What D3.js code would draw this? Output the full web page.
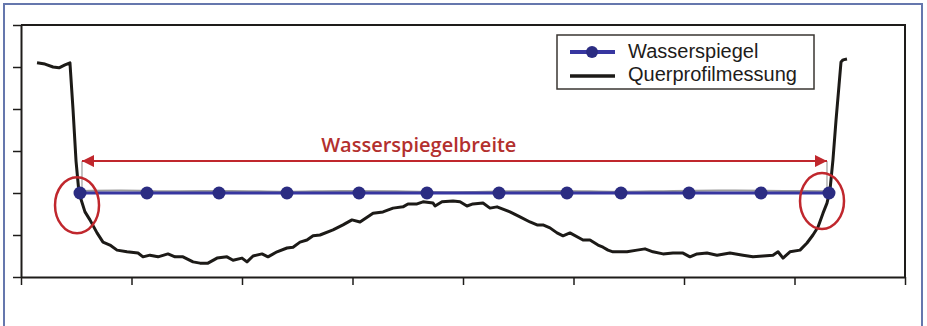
<!DOCTYPE html>
<html>
<head>
<meta charset="utf-8">
<script src="https://cdn.jsdelivr.net/npm/d3@7"></script>
<style>
    body { margin: 0; background: #fff; }
    svg { display: block; }
</style>
</head>
<body>
<div id="chart"></div>
<script>
const profileX = [1.45, 2.17, 2.90, 3.44, 3.98, 4.43, 4.71, 4.98, 5.25, 5.79, 6.24, 6.88, 7.42, 8.05, 8.69,
    9.59, 10.59, 11.04, 11.67, 12.40, 13.30, 13.94, 14.66, 15.57, 16.20, 16.92, 17.74, 18.64, 19.19, 20.00,
    20.45, 21.00, 21.81, 22.35, 23.17, 24.07, 24.62, 25.25, 25.88, 26.43, 27.06, 28.24, 29.14, 29.95, 30.68,
    31.86, 32.76, 33.67, 34.57, 35.02, 35.84, 36.38, 37.29, 37.47, 38.10, 39.10, 39.73, 40.36, 40.90, 41.81,
    42.44, 43.08, 44.25, 45.16, 46.06, 46.70, 47.24, 47.87, 48.51, 49.05, 49.68, 50.86, 51.49, 52.22, 52.67,
    53.12, 53.57, 54.21, 54.84, 55.75, 56.47, 57.19, 58.10, 59.00, 59.91, 60.54, 61.18, 62.08, 62.99, 64.16,
    65.34, 66.24, 67.15, 68.05, 68.51, 68.96, 69.59, 70.50, 71.13, 71.67, 72.13, 72.58, 72.94, 73.21, 73.48,
    73.76, 74.03, 74.21, 74.39, 74.75];
const profileY = [5.10, 5.07, 5.00, 4.98, 5.05, 5.10, 3.98, 2.76, 2.00, 1.55, 1.36, 1.05, 0.83, 0.76, 0.64,
    0.60, 0.57, 0.48, 0.52, 0.48, 0.55, 0.48, 0.48, 0.36, 0.33, 0.33, 0.45, 0.48, 0.40, 0.45,
    0.36, 0.50, 0.55, 0.48, 0.60, 0.69, 0.71, 0.83, 0.88, 0.98, 1.00, 1.12, 1.24, 1.36, 1.31,
    1.52, 1.55, 1.64, 1.67, 1.74, 1.74, 1.79, 1.76, 1.69, 1.79, 1.81, 1.79, 1.69, 1.74, 1.76,
    1.64, 1.67, 1.55, 1.43, 1.31, 1.24, 1.24, 1.17, 1.05, 0.98, 1.05, 0.88, 0.88, 0.76, 0.71,
    0.64, 0.60, 0.60, 0.60, 0.64, 0.67, 0.60, 0.55, 0.57, 0.57, 0.48, 0.55, 0.57, 0.52, 0.57,
    0.52, 0.48, 0.50, 0.52, 0.60, 0.45, 0.60, 0.64, 0.81, 1.00, 1.19, 1.52, 1.76, 2.07, 2.79,
    3.74, 4.57, 5.12, 5.17, 5.19];

// Wasserspiegel-Punkte
const waterX = [5.34, 11.40, 17.92, 24.07, 30.59, 36.74, 43.26, 49.41, 54.30, 60.45, 66.97, 73.12];
const waterY = [2.00, 2.00, 2.00, 2.00, 2.00, 2.00, 2.00, 2.00, 2.00, 2.00, 2.00, 2.00];

// gemessene Wasseroberfläche (grau, knapp über der Linie)
const surfaceX = [5.3, 9.0, 14.0, 19.0, 24.0, 29.0, 34.0, 39.0, 44.0, 49.0, 54.0, 59.0, 64.0, 69.0, 73.1];
const surfaceY = [2.05, 2.06, 2.04, 2.05, 2.03, 2.05, 2.04, 2.02, 2.04, 2.05, 2.03, 2.05, 2.06, 2.05, 2.04];

// Wasserspiegelbreite (Pfeil) und Markierungen
const widthStart = 5.52, widthEnd = 72.94, widthLevel = 2.76;
const edgeMarks = [[5.07, 1.71], [72.49, 1.81]];

const xTicks = [0, 10, 20, 30, 40, 50, 60, 70, 80];
const yTicks = [0, 1, 2, 3, 4, 5, 6];
const seriesNames = ['Wasserspiegel', 'Querprofilmessung'];
const widthLabel = 'Wasserspiegelbreite';

const W = 927, H = 326;
const margin = {top: 25, right: 22, bottom: 49, left: 21};
const width = W - margin.left - margin.right;
const height = H - margin.top - margin.bottom;

const svg = d3.select('#chart').append('svg')
    .attr('width', W)
    .attr('height', H);

const defs = svg.append('defs');
defs.append('marker')
    .attr('id', 'arrow')
    .attr('viewBox', '0 0 10 10')
    .attr('refX', 10)
    .attr('refY', 5)
    .attr('markerWidth', 15)
    .attr('markerHeight', 12)
    .attr('markerUnits', 'userSpaceOnUse')
    .attr('orient', 'auto-start-reverse')
    .append('path')
    .attr('d', 'M0,0 L10,5 L0,10 Z')
    .attr('fill', '#c0272d');

// outer frame
svg.append('rect')
    .attr('x', 4)
    .attr('y', 4)
    .attr('width', 918)
    .attr('height', 330)
    .attr('fill', '#fff')
    .attr('stroke', '#6577ad')
    .attr('stroke-width', 2);

const g = svg.append('g')
    .attr('transform', `translate(${margin.left},${margin.top})`);

const x = d3.scaleLinear().domain([0, 80]).range([0, width]);
const y = d3.scaleLinear().domain([0, 6]).range([height, 0]);

// axes
const xAxis = g.append('g')
    .attr('transform', `translate(0,${height})`)
    .call(d3.axisBottom(x).tickValues(xTicks).tickSize(8).tickSizeOuter(0).tickFormat(''));
const yAxis = g.append('g')
    .call(d3.axisLeft(y).tickValues(yTicks).tickSize(8).tickSizeOuter(0).tickFormat(''));
[xAxis, yAxis].forEach(a => {
    a.select('.domain').attr('stroke', '#1e1c1a').attr('stroke-width', 2);
    a.selectAll('.tick line').attr('stroke', '#1e1c1a').attr('stroke-width', 1.5);
});

// top and right frame of plot area
g.append('path')
    .attr('d', d3.line()([[x(0), y(6)], [x(80), y(6)], [x(80), y(0)]]))
    .attr('fill', 'none')
    .attr('stroke', '#1e1c1a')
    .attr('stroke-width', 2);

const line = d3.line()
    .x(d => x(d[0]))
    .y(d => y(d[1]));

// grey surface line
g.append('path')
    .datum(surfaceX.map((v, i) => [v, surfaceY[i]]))
    .attr('d', line.curve(d3.curveMonotoneX))
    .attr('fill', 'none')
    .attr('stroke', '#9a9a9a')
    .attr('stroke-width', 2);
line.curve(d3.curveLinear);

// extension lines of the width dimension
[widthStart, widthEnd].forEach(v => {
    g.append('line')
        .attr('x1', x(v)).attr('x2', x(v))
        .attr('y1', y(widthLevel)).attr('y2', y(2))
        .attr('stroke', '#8a8a8a')
        .attr('stroke-width', 1);
});

// water level
g.append('path')
    .datum(waterX.map((v, i) => [v, waterY[i]]))
    .attr('d', line)
    .attr('fill', 'none')
    .attr('stroke', '#3736a0')
    .attr('stroke-width', 3);

// profile
g.append('path')
    .datum(profileX.map((v, i) => [v, profileY[i]]))
    .attr('d', line)
    .attr('fill', 'none')
    .attr('stroke', '#1c1a17')
    .attr('stroke-width', 3)
    .attr('stroke-linejoin', 'round');

g.selectAll('.wpoint')
    .data(waterX.map((v, i) => [v, waterY[i]]))
    .join('circle')
    .attr('class', 'wpoint')
    .attr('cx', d => x(d[0]))
    .attr('cy', d => y(d[1]))
    .attr('r', 6.5)
    .attr('fill', '#2b2c82');

// width arrow
g.append('line')
    .attr('x1', x(widthStart)).attr('x2', x(widthEnd))
    .attr('y1', y(widthLevel)).attr('y2', y(widthLevel))
    .attr('stroke', '#c0272d')
    .attr('stroke-width', 2)
    .attr('marker-start', 'url(#arrow)')
    .attr('marker-end', 'url(#arrow)');

g.append('text')
    .attr('x', x(36))
    .attr('y', y(widthLevel) - 9)
    .attr('text-anchor', 'middle')
    .style('font-family', '"Open Sans", sans-serif')
    .style('font-size', '20px')
    .style('font-weight', 600)
    .attr('fill', '#b3302e')
    .text(widthLabel);

// red ellipses at the banks
g.selectAll('.edge')
    .data(edgeMarks)
    .join('ellipse')
    .attr('class', 'edge')
    .attr('cx', d => x(d[0]))
    .attr('cy', d => y(d[1]))
    .attr('rx', 22)
    .attr('ry', 28)
    .attr('fill', 'none')
    .attr('stroke', '#c0272d')
    .attr('stroke-width', 2.5);

// legend
const legend = svg.append('g')
    .attr('transform', 'translate(557,35)');

legend.append('rect')
    .attr('width', 257)
    .attr('height', 54)
    .attr('fill', '#fff')
    .attr('stroke', '#3a3632')
    .attr('stroke-width', 1.5);

legend.append('path')
    .attr('d', d3.line()([[13, 17], [58, 17]]))
    .attr('stroke', '#3736a0')
    .attr('stroke-width', 4);
legend.append('circle')
    .attr('cx', 35)
    .attr('cy', 17)
    .attr('r', 6)
    .attr('fill', '#2b2c82');

legend.append('path')
    .attr('d', d3.line()([[13, 41], [58, 41]]))
    .attr('stroke', '#1c1a17')
    .attr('stroke-width', 3.5);

legend.selectAll('.ltext')
    .data(seriesNames)
    .join('text')
    .attr('class', 'ltext')
    .attr('x', 71)
    .attr('y', (d, i) => 23 + i * 23)
    .style('font-family', '"Liberation Sans", Arial, sans-serif')
    .style('font-size', '20px')
    .attr('fill', '#1e1c1a')
    .text(d => d);
</script>
</body>
</html>
